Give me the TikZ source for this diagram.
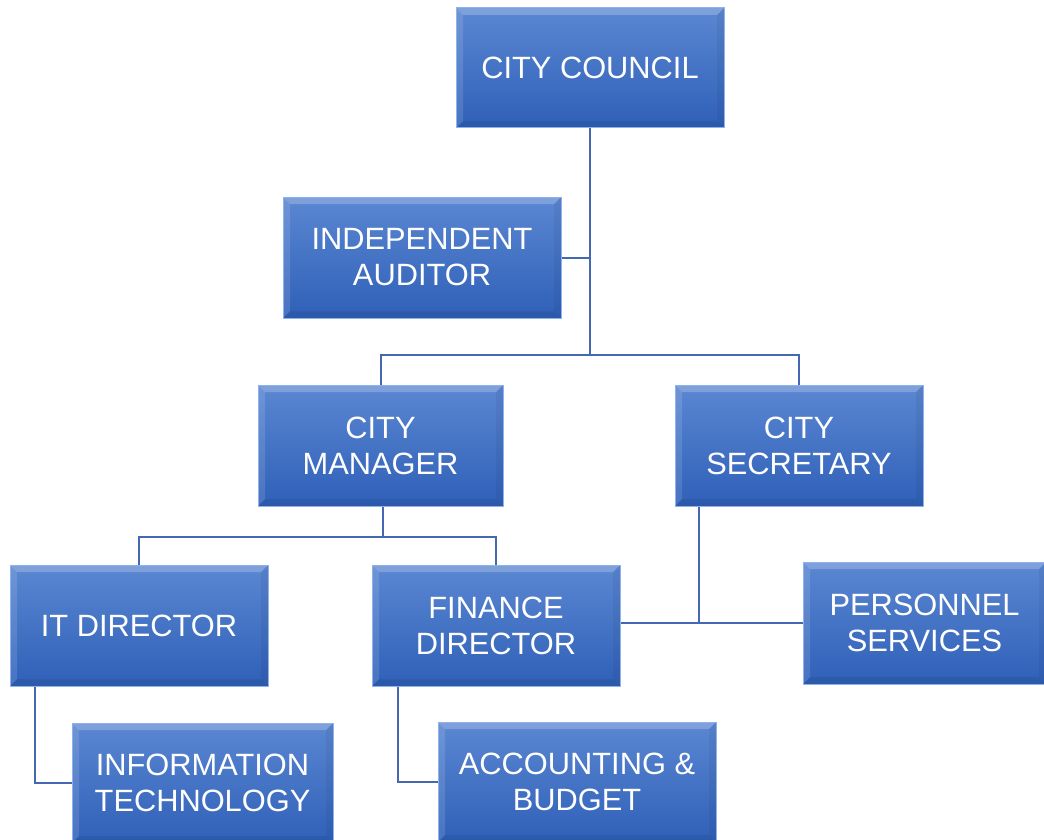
\documentclass[tikz,border=0pt]{standalone}
\usepackage{fontspec}
\setmainfont{Liberation Sans}
\definecolor{boxtop}{HTML}{5B87D2}
\definecolor{boxbot}{HTML}{2F60B8}
\definecolor{boxedge}{HTML}{8FB2EC}
\definecolor{conn}{HTML}{4468B4}
\tikzset{
  box/.style={rectangle, inner sep=0pt, top color=boxtop, bottom color=boxbot,
    draw=boxedge, line width=1pt, text=white, align=center,
    font=\fontsize{30.8}{36}\selectfont,
    path picture={
      \fill[white,opacity=0.22] (path picture bounding box.north west) -- (path picture bounding box.north east)
        -- ([xshift=-7pt,yshift=-7pt]path picture bounding box.north east) -- ([xshift=7pt,yshift=-7pt]path picture bounding box.north west) -- cycle;
      \fill[white,opacity=0.12] (path picture bounding box.north west) -- ([xshift=7pt,yshift=-7pt]path picture bounding box.north west)
        -- ([xshift=7pt,yshift=7pt]path picture bounding box.south west) -- (path picture bounding box.south west) -- cycle;
      \fill[black,opacity=0.07] (path picture bounding box.south west) -- (path picture bounding box.south east)
        -- ([xshift=-7pt,yshift=7pt]path picture bounding box.south east) -- ([xshift=7pt,yshift=7pt]path picture bounding box.south west) -- cycle;
      \fill[black,opacity=0.05] (path picture bounding box.north east) -- ([xshift=-7pt,yshift=-7pt]path picture bounding box.north east)
        -- ([xshift=-7pt,yshift=7pt]path picture bounding box.south east) -- (path picture bounding box.south east) -- cycle;
    }},
  link/.style={draw=conn, line width=2pt}
}
\begin{document}
\begin{tikzpicture}[x=1pt,y=-1pt]
\useasboundingbox[fill=white] (0,0) rectangle (1044,840);
\node[box, minimum width=268pt, minimum height=120pt] (council) at (590,68) {CITY COUNCIL};
\node[box, minimum width=278pt, minimum height=121pt] (auditor) at (422,257.5) {INDEPENDENT\\AUDITOR};
\node[box, minimum width=245pt, minimum height=121pt] (mgr) at (380.5,445.5) {CITY\\MANAGER};
\node[box, minimum width=248pt, minimum height=121pt] (sec) at (799,445.5) {CITY\\SECRETARY};
\node[box, minimum width=258pt, minimum height=121pt] (itd) at (139,625.5) {IT DIRECTOR};
\node[box, minimum width=248pt, minimum height=121pt] (fin) at (496,625.5) {FINANCE\\DIRECTOR};
\node[box, minimum width=243pt, minimum height=122pt] (pers) at (924.5,623) {PERSONNEL\\SERVICES};
\node[box, minimum width=261pt, minimum height=120pt] (info) at (202.5,783) {INFORMATION\\TECHNOLOGY};
\node[box, minimum width=278pt, minimum height=120pt] (acc) at (577,782) {ACCOUNTING \&\\BUDGET};

\coordinate (j1) at (590,355);
\coordinate (j2) at (383,537);
\coordinate (j3) at (699,623);

\draw[link] (council.south) -- (j1);
\draw[link] (auditor.east) -- (auditor.east -| council.south);
\draw[link] (mgr.north) |- (j1) -| (sec.north);
\draw[link] (mgr.south -| j2) -- (j2);
\draw[link] (itd.north) |- (j2) -| (fin.north);
\draw[link] (sec.south -| j3) -- (j3);
\draw[link] (fin.east |- j3) -- (pers.west |- j3);
\draw[link] ([xshift=25pt]itd.south west) |- (info.west);
\draw[link] ([xshift=26pt]fin.south west) |- (acc.west);
\end{tikzpicture}
\end{document}
